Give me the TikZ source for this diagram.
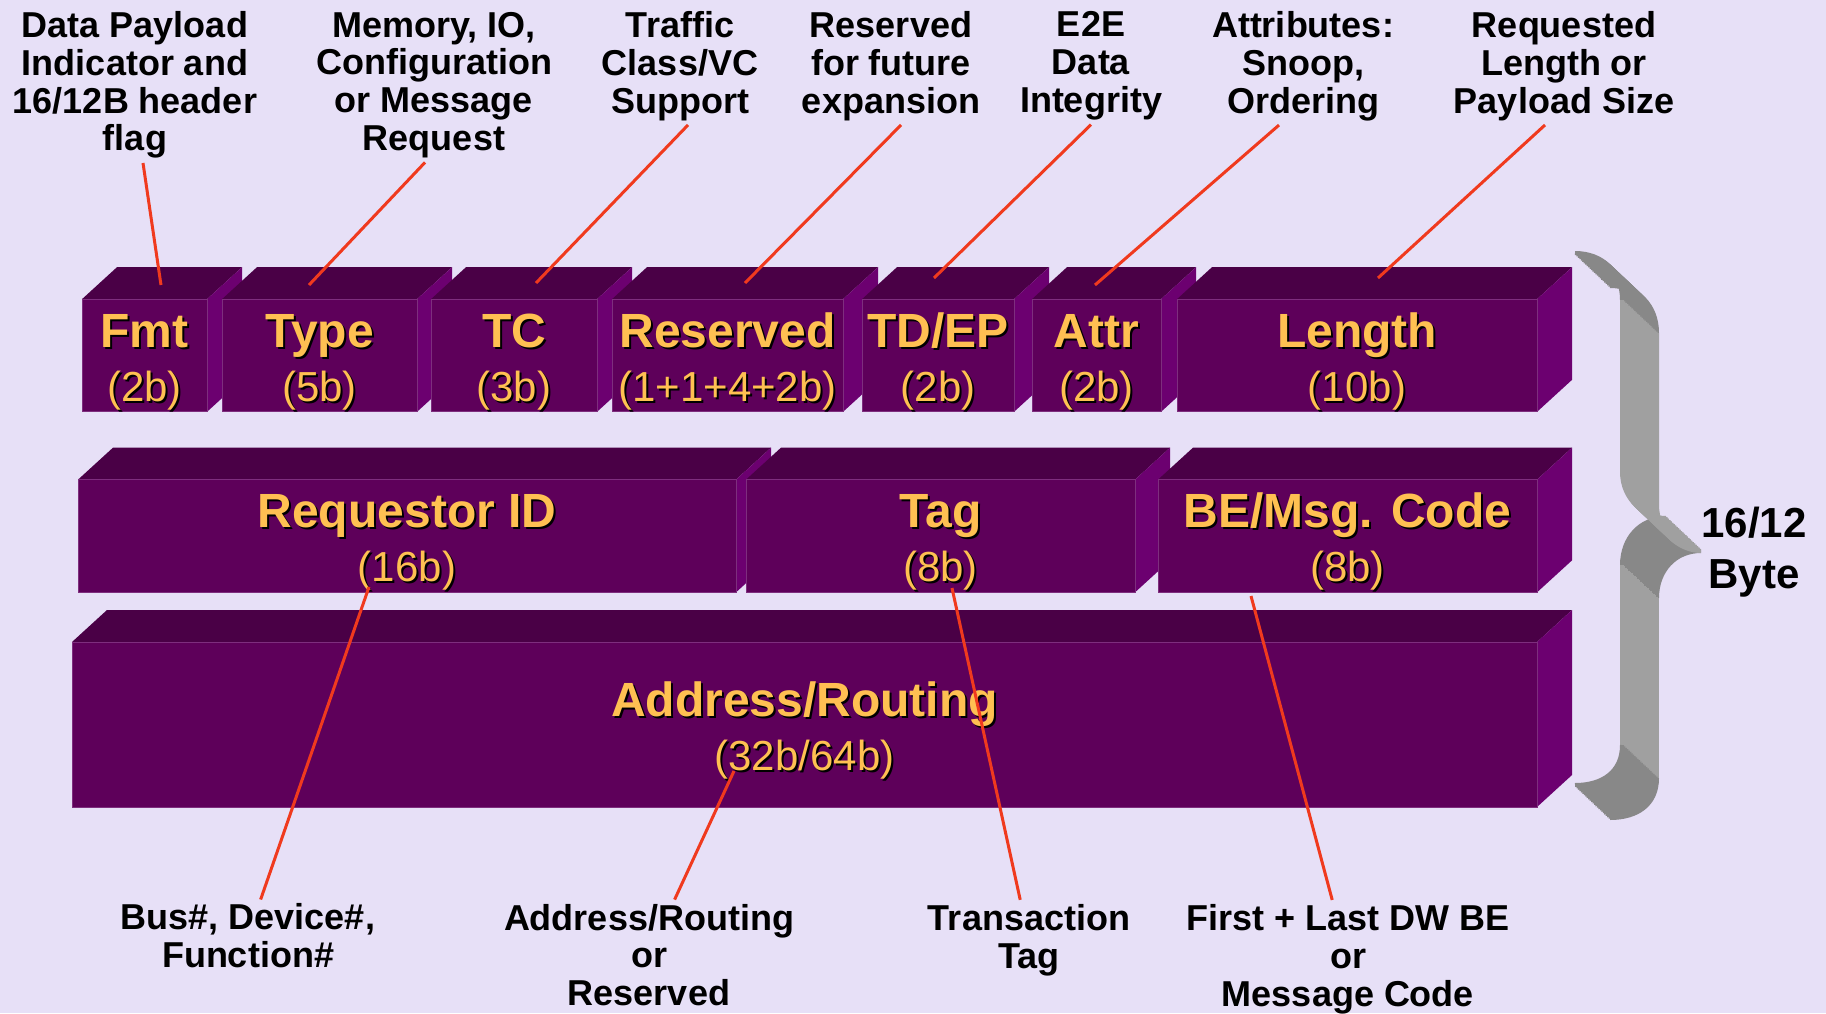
\documentclass[tikz,border=0pt]{standalone}
\usepackage{fontspec}
\setmainfont{Liberation Sans}
\usetikzlibrary{positioning,calc,backgrounds}

\definecolor{slidebg}{RGB}{231,224,247}
\definecolor{fieldfront}{RGB}{94,0,90}
\definecolor{fieldtop}{RGB}{74,0,70}
\definecolor{fieldside}{RGB}{108,0,112}
\definecolor{fieldedge}{RGB}{126,46,126}
\definecolor{fieldtext}{RGB}{255,192,82}
\definecolor{pointerred}{RGB}{240,58,30}
\definecolor{bracelight}{RGB}{160,160,160}
\definecolor{bracemid}{RGB}{136,136,136}

% yellow field text with a black drop shadow
\newcommand\dropsh[1]{\leavevmode\rlap{\kern1pt\raisebox{-1pt}{\textcolor{black}{#1}}}#1}
\newcommand\fieldtext[2]{\rule{0pt}{24pt}\dropsh{#1}\\{\fontsize{21}{27}\selectfont\mdseries\dropsh{(#2)}}}

\begin{document}
\begin{tikzpicture}[
  x=0.5pt, y=-0.5pt,
  node distance=8pt,
  field/.style={
    fill=fieldfront,
    draw=fieldedge,
    line width=0.4pt,
    inner sep=0pt,
    outer sep=0pt,
    minimum height=55.5pt,
    align=center,
    text=fieldtext,
    font=\fontsize{24}{27}\selectfont\bfseries
  },
  note/.style={
    align=center,
    inner sep=2pt,
    font=\fontsize{18}{18.9}\selectfont\bfseries
  },
  pointer/.style={draw=pointerred, line width=1.5pt},
  topface/.style={fill=fieldtop},
  sideface/.style={fill=fieldside},
  sweep/.style={line width=2pt}
]
  \useasboundingbox (0,0) rectangle (1826,1013);
  \begin{scope}[on background layer]
    \fill[slidebg] (0,0) rectangle (1826,1013);
  \end{scope}

  % First DW: Fmt .. Length
  \node[field, minimum width=62.5pt] (fmt) at (144.5,355.5) {\fieldtext{Fmt}{2b}};
  \node[field, minimum width=97.5pt, right=7.5pt of fmt] (type) {\fieldtext{Type}{5b}};
  \node[field, minimum width=83pt, right=7pt of type] (tc) {\fieldtext{TC}{3b}};
  \node[field, minimum width=115.5pt, right=7.5pt of tc] (resv) {\fieldtext{Reserved}{1+1+4+2b}};
  \node[field, minimum width=76pt, right=9.5pt of resv] (tdep) {\fieldtext{TD/EP}{2b}};
  \node[field, minimum width=64.5pt, right=9pt of tdep] (attr) {\fieldtext{Attr}{2b}};
  \node[field, minimum width=180pt, right=8pt of attr] (len) {\fieldtext{Length}{10b}};

  % Second DW: Requestor ID, Tag, BE
  \node[field, minimum width=329pt, minimum height=56pt] (reqid) at (407,536) {\fieldtext{Requestor ID}{16b}};
  \node[field, minimum width=194.5pt, minimum height=56pt, right=5pt of reqid] (tag) {\fieldtext{Tag}{8b}};
  \node[field, minimum width=189.5pt, minimum height=56pt, right=11.5pt of tag] (be) {\fieldtext{BE/Msg. Code}{8b}};

  % Address DW(s)
  \node[field, minimum width=732.5pt, minimum height=82.5pt] (addr) at (804.5,724.5) {\fieldtext{Address/Routing}{32b/64b}};

  % top and side faces of every field
  \begin{scope}[on background layer]
    \foreach \f in {fmt,type,tc,resv,tdep,attr,len,reqid,tag,be,addr} {
      \fill[topface] (\f.north west) -- ++(35,-32) -- ([shift={(35,-32)}]\f.north east) -- (\f.north east) -- cycle;
      \fill[sideface] (\f.north east) -- ++(35,-32) -- ([shift={(35,-32)}]\f.south east) -- (\f.south east) -- cycle;
    }
  \end{scope}

  % Descriptions above
  \node[note] (n-fmt) at (135,85) {Data Payload\\Indicator and\\16/12B header\\flag};
  \node[note] (n-type) at (434,85) {Memory, IO,\\Configuration\\or Message\\Request};
  \node[note] (n-tc) at (680,66) {Traffic\\Class/VC\\Support};
  \node[note] (n-resv) at (891,66) {Reserved\\for future\\expansion};
  \node[note] (n-tdep) at (1091,66) {E2E\\Data\\Integrity};
  \node[note] (n-attr) at (1303,66) {Attributes:\\Snoop,\\Ordering};
  \node[note] (n-len) at (1564,66) {Requested\\Length or\\Payload Size};

  % Descriptions below
  \node[note] (n-reqid) at (248,936) {Bus\#, Device\#,\\Function\#};
  \node[note] (n-addr) at (649,955) {Address/Routing\\or\\Reserved};
  \node[note] (n-tag) at (1029,940) {Transaction\\Tag};
  \node[note] (n-be) at (1348,959) {First + Last DW BE\\or\\Message Code};

  % where the pointers touch the fields
  \coordinate (fmt-hit) at (161,285);
  \coordinate (type-hit) at (309,285);
  \coordinate (tc-hit) at (536,283);
  \coordinate (resv-hit) at (745,283);
  \coordinate (tdep-hit) at (934,278);
  \coordinate (attr-hit) at (1095,285);
  \coordinate (len-hit) at (1378,278);
  \coordinate (reqid-hit) at (369,587);
  \coordinate (addr-hit) at (734,771);
  \coordinate (tag-hit) at (952,588);
  \coordinate (be-hit) at (1251,596);

  \draw[pointer] ([xshift=4pt]n-fmt.south) -- (fmt-hit);
  \draw[pointer] ([xshift=-4.5pt]n-type.south) -- (type-hit);
  \draw[pointer] ([xshift=4pt]n-tc.south) -- (tc-hit);
  \draw[pointer] ([xshift=5pt]n-resv.south) -- (resv-hit);
  \draw[pointer] (n-tdep.south) -- (tdep-hit);
  \draw[pointer] ([xshift=-12pt]n-attr.south) -- (attr-hit);
  \draw[pointer] ([xshift=-9.5pt]n-len.south) -- (len-hit);
  \draw[pointer] (reqid-hit) -- (n-reqid);
  \draw[pointer] (addr-hit) -- (n-addr);
  \draw[pointer] (tag-hit) -- (n-tag);
  \draw[pointer] (be-hit) -- (n-be);

  % 3D brace over the header, swept back piece by piece
  \foreach \t in {0,...,24}
    \draw[sweep, bracemid, shift={(\t*35/24,\t*33/24)}] (1666,518) .. controls (1640,518) and (1622,538) .. (1622,565);
  \foreach \t in {0,...,24}
    \draw[sweep, bracelight, shift={(\t*35/24,\t*33/24)}] (1622,565) -- (1622,745);
  \foreach \t in {0,...,24}
    \draw[sweep, bracemid, shift={(\t*35/24,\t*33/24)}] (1622,745) .. controls (1622,772) and (1602,785) .. (1575,785);
  \foreach \t in {0,...,24}
    \draw[sweep, bracemid, shift={(\t*35/24,\t*33/24)}] (1575,253) .. controls (1603,253) and (1622,272) .. (1622,300);
  \foreach \t in {0,...,24}
    \draw[sweep, bracelight, shift={(\t*35/24,\t*33/24)}] (1622,300) -- (1622,472) .. controls (1622,500) and (1645,518) .. (1666,518);

  \node[font=\fontsize{21}{25.5}\selectfont\bfseries, align=center, inner sep=0pt] (bytes) at (1754,552) {16/12\\Byte};

\end{tikzpicture}
\end{document}
